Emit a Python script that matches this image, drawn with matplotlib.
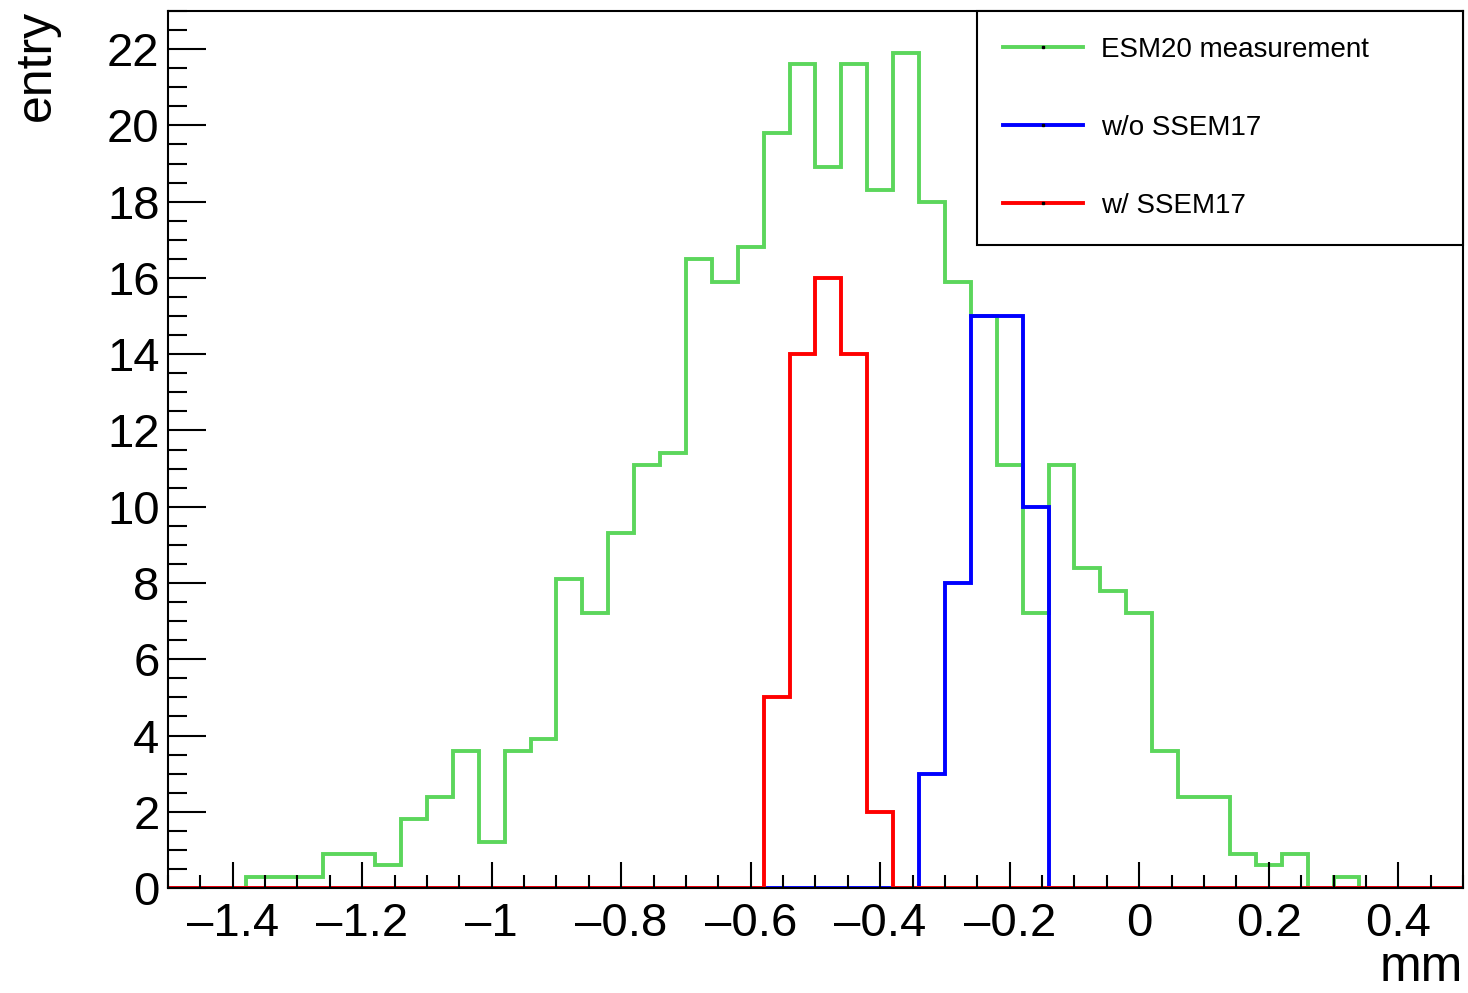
import numpy as np
import matplotlib
matplotlib.use('Agg')
import matplotlib.pyplot as plt
from matplotlib.lines import Line2D
from matplotlib.ticker import MultipleLocator

plt.rcParams['font.family'] = ['Liberation Sans', 'DejaVu Sans']

# binning: 50 bins from -1.5 to 0.5 mm
x_lo, x_hi, nbins = -1.5, 0.5, 50
edges = np.linspace(x_lo, x_hi, nbins + 1)

esm20 = [0, 0, 0, 0.3, 0.3, 0.3, 0.9, 0.9, 0.6, 1.8,
         2.4, 3.6, 1.2, 3.6, 3.9, 8.1, 7.2, 9.3, 11.1, 11.4,
         16.5, 15.9, 16.8, 19.8, 21.6, 18.9, 21.6, 18.3, 21.9, 18.0,
         15.9, 15.0, 11.1, 7.2, 11.1, 8.4, 7.8, 7.2, 3.6, 2.4,
         2.4, 0.9, 0.6, 0.9, 0, 0.3, 0, 0, 0, 0]
wo_ssem17 = [0] * 29 + [3, 8, 15, 15, 10] + [0] * 16
w_ssem17 = [0] * 23 + [5, 14, 16, 14, 2] + [0] * 22

labels = ['ESM20 measurement', 'w/o SSEM17', 'w/ SSEM17']
colors = ['#5cd65c', '#0000ff', '#ff0000']

fig = plt.figure(figsize=(14.68, 9.93), dpi=100)
ax = fig.add_axes([0.1144, 0.1057, 0.8822, 0.8832])

for vals, c in zip([esm20, wo_ssem17, w_ssem17], colors):
    ax.stairs(vals, edges, color=c, linewidth=2.8, baseline=0)

ax.set_xlim(x_lo, x_hi)
ax.set_ylim(0, 23)

ax.xaxis.set_major_locator(MultipleLocator(0.2))
ax.xaxis.set_minor_locator(MultipleLocator(0.05))
ax.yaxis.set_major_locator(MultipleLocator(2))
ax.yaxis.set_minor_locator(MultipleLocator(0.5))
ax.xaxis.set_major_formatter(plt.FuncFormatter(lambda v, p: ('%g' % round(v, 2)).replace('-', '\u2013')))

ax.tick_params(axis='x', which='major', direction='in', length=19, width=1.5, labelsize=34, pad=10)
ax.tick_params(axis='x', which='minor', direction='in', length=9.5, width=1.5)
ax.tick_params(axis='y', which='major', direction='in', length=27, width=1.5, labelsize=34, pad=6)
ax.tick_params(axis='y', which='minor', direction='in', length=14, width=1.5)
for s in ax.spines.values():
    s.set_linewidth(1.5)

ax.set_xlabel('mm', fontsize=36, loc='right')
ax.xaxis.label.set_va('baseline')
ax.xaxis.set_label_coords(1.0, -0.106)
ax.set_ylabel('entry', fontsize=36, loc='top')
ax.yaxis.label.set_va('baseline')
ax.yaxis.set_label_coords(-0.091, 1.001)

handles = [Line2D([], [], color=c, linewidth=2.8, marker='s', markersize=1.5,
                  markerfacecolor='black', markeredgecolor='black') for c in colors]
leg = ax.legend(handles, labels, loc='upper left', bbox_to_anchor=(0.6248, 0.0, 0.3752, 1.0),
                mode='expand', fontsize=20, frameon=True, fancybox=False,
                edgecolor='black', framealpha=1, borderaxespad=0, borderpad=0.92,
                labelspacing=1.88, handlelength=2.9, handletextpad=0.65)
leg.get_frame().set_linewidth(1.5)

fig.savefig('out.png', dpi=100)
